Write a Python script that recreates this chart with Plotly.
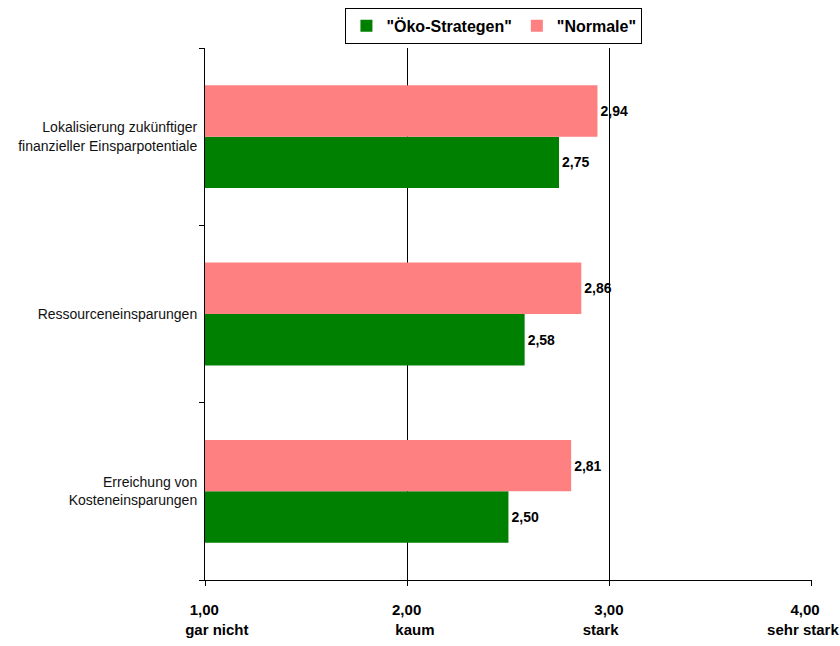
import plotly.graph_objects as go

# Categories listed bottom-to-top as drawn on the y axis
categories = [
    "Erreichung von<br>Kosteneinsparungen",
    "Ressourceneinsparungen",
    "Lokalisierung zukünftiger<br>finanzieller Einsparpotentiale",
]
oeko_values = [2.50, 2.58, 2.75]
normale_values = [2.81, 2.86, 2.94]

NB = "\u00a0"
scale_vals = [1, 2, 3, 4]
scale_labels = [
    NB * 4 + "1,00<br>" + NB * 10 + "gar nicht",
    NB * 4 + "2,00<br>" + NB * 8 + "kaum",
    NB * 4 + "3,00<br>stark",
    NB * 1 + "4,00<br>sehr stark",
]


def fmt(v):
    return f"{v:.2f}".replace(".", ",")


font_family = "Liberation Sans, Arial, sans-serif"
label_font = dict(family=font_family, size=14, color="black", weight="bold")

fig = go.Figure()
fig.add_trace(go.Bar(
    y=categories, x=oeko_values, orientation="h", name='"Öko-Strategen"',
    marker=dict(color="#008000", line=dict(width=0)),
    text=[fmt(v) for v in oeko_values], textposition="outside",
    textfont=label_font, cliponaxis=False,
))
fig.add_trace(go.Bar(
    y=categories, x=normale_values, orientation="h", name='"Normale"',
    marker=dict(color="#FF8080", line=dict(width=0)),
    text=[fmt(v) for v in normale_values], textposition="outside",
    textfont=label_font, cliponaxis=False,
))

fig.update_layout(
    width=840, height=646,
    margin=dict(l=205, r=28, t=48, b=66, autoexpand=False),
    paper_bgcolor="white", plot_bgcolor="white",
    barmode="group", bargap=0.42, bargroupgap=0,
    font=dict(family=font_family, color="black"),
    legend=dict(
        orientation="h", x=0.476, xanchor="center", y=0.988, yanchor="top",
        yref="container",
        font=dict(family=font_family, size=16, color="black", weight="bold"),
        bordercolor="black", borderwidth=1, bgcolor="white",
        itemwidth=30, traceorder="normal", tracegroupgap=0,
    ),
    showlegend=True,
)

fig.update_xaxes(
    range=[1, 4.0005], tickvals=scale_vals, ticktext=scale_labels,
    showgrid=True, gridcolor="black", gridwidth=1,
    showline=True, linecolor="black", linewidth=1,
    ticks="outside", ticklen=5, tickcolor="black",
    ticklabelstandoff=11, ticklabelshift=-9, ticklabeloverflow="allow",
    automargin=False,
    tickfont=dict(family=font_family, size=15, color="black", weight="bold"),
    zeroline=False, fixedrange=True,
)
fig.update_yaxes(
    categoryorder="array", categoryarray=categories,
    showline=True, linecolor="black", linewidth=1,
    ticks="outside", ticklen=5, tickcolor="black", tickson="boundaries",
    ticklabelstandoff=4, automargin=False,
    tickfont=dict(family=font_family, size=14, color="#111111"),
    showgrid=False, fixedrange=True,
)

fig.write_html("out.html")
